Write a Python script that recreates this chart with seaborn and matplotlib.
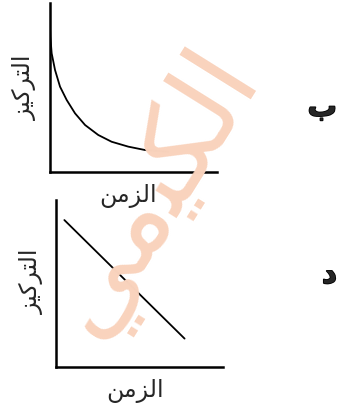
import matplotlib
matplotlib.use("Agg")
from matplotlib import pyplot as plt
from matplotlib import patheffects
import seaborn as sns
import pandas as pd

# Arabic in presentation forms, written in visual order (matplotlib has no shaping)
time_label = "\uFEE6\uFEE3\uFEB0\uFEDF\uFE8D"            # الزمن
conc_label = "\uFEB0\uFEF4\uFEDB\uFEAE\uFE98\uFEDF\uFE8D"  # التركيز
letter_top = "\uFE8F"   # ب
letter_bottom = "\u062F"  # د
watermark = "\uFEF2\uFEE3\uFEF4\uFEDC\uFEDF\uFE8D"  # الكيمي

# curve (b): concentration falling off quickly, then levelling out
curve_time = [0, 0.02, 0.10, 0.30, 0.60, 1.0, 1.5, 2.1, 2.89, 3.69, 4.69, 5.69, 7.08]
curve_conc = [8.6, 8.0, 7.02, 6.04, 5.05, 4.26, 3.47, 2.78, 2.19, 1.79, 1.50, 1.30, 1.20]

# line (d): constant rate of decrease
line_time = [0.5, 7.7]
line_conc = [8.8, 1.7]

sns.set_style("white")
plt.rcParams["font.family"] = ["DejaVu Sans"]

fig = plt.figure(figsize=(3.38, 4.09), dpi=100)

# watermark behind everything
fig.text(0.45, 0.53, watermark, rotation=58, fontsize=80, color="#f9d3bd",
         ha="center", va="center", zorder=0)

ax1 = fig.add_axes([50 / 338, (409 - 172) / 409, 167 / 338, 169 / 409])
ax2 = fig.add_axes([56 / 338, (409 - 367) / 409, 167 / 338, 167 / 409])

df1 = pd.DataFrame({"time": curve_time, "conc": curve_conc})
df2 = pd.DataFrame({"time": line_time, "conc": line_conc})

sns.lineplot(data=df1, x="time", y="conc", ax=ax1, color="black", linewidth=1.3)
sns.lineplot(data=df2, x="time", y="conc", ax=ax2, color="black", linewidth=1.3)

for ax in (ax1, ax2):
    ax.set_xlim(0, 10)
    ax.set_ylim(0, 10)
    ax.set_xticks([])
    ax.set_yticks([])
    ax.set_xlabel("")
    ax.set_ylabel("")
    ax.patch.set_alpha(0)
    sns.despine(ax=ax)
    for side in ("left", "bottom"):
        ax.spines[side].set_color("black")
        ax.spines[side].set_linewidth(1.8)

# axis titles
fig.text(128 / 338, 1 - 196 / 409, time_label, fontsize=17, ha="center", va="center")
fig.text(25 / 338, 1 - 87 / 409, conc_label, fontsize=17, rotation=90, ha="center", va="center")
fig.text(135 / 338, 1 - 391 / 409, time_label, fontsize=17, ha="center", va="center")
fig.text(32 / 338, 1 - 281 / 409, conc_label, fontsize=17, rotation=90, ha="center", va="center")

# option letters on the right edge
bold = [patheffects.withStroke(linewidth=1.2, foreground="black")]
fig.text(337 / 338, 1 - 108 / 409, letter_top, fontsize=21, fontweight="bold",
         ha="right", va="center", path_effects=bold)
fig.text(337 / 338, 1 - 275 / 409, letter_bottom, fontsize=21, fontweight="bold",
         ha="right", va="center", path_effects=bold)

fig.savefig("out.png", dpi=100)
